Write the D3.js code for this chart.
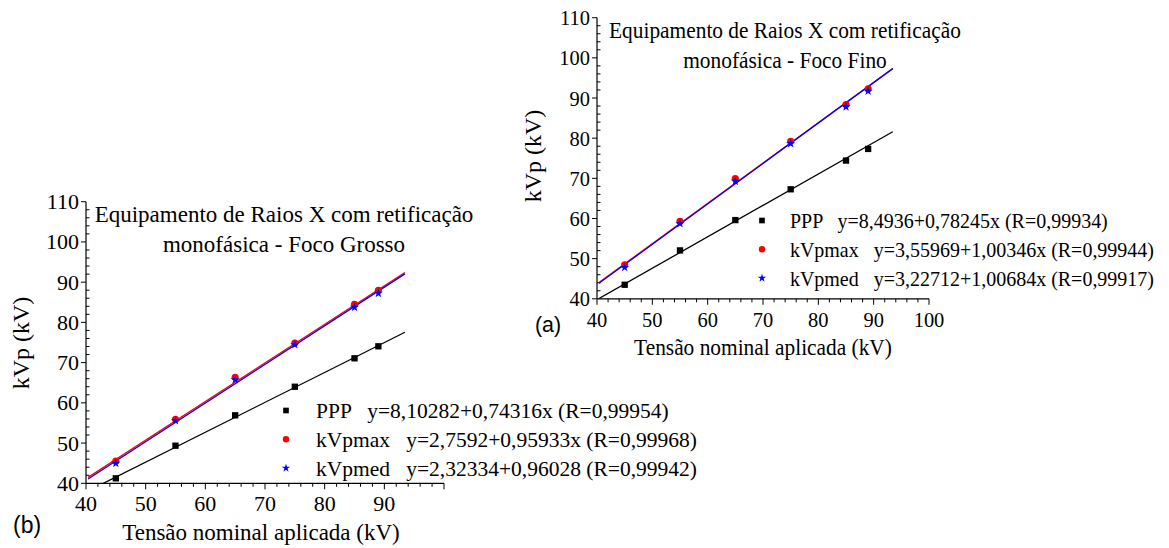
<!DOCTYPE html>
<html><head><meta charset="utf-8">
<script src="https://cdn.jsdelivr.net/npm/d3@7"></script>
<style>html,body{margin:0;padding:0;background:#fff;}svg{display:block;}</style>
</head><body>
<svg id="c" width="1169" height="548"></svg>
<script>
// ---- data ----
const tensoes = [45, 55, 65, 75, 85, 89];
// (b) Foco Grosso
const grossoPPP = [41.24, 49.35, 56.9, 64.0, 71.07, 74.05];
const grossoMax = [45.5, 55.9, 66.35, 74.87, 84.5, 87.97];
const grossoMed = [44.97, 55.56, 65.76, 74.46, 83.75, 87.23];
const grossoFits = [[8.10282, 0.74316], [2.7592, 0.95933], [2.32334, 0.96028]];
const grossoLegend = ["PPP   y=8,10282+0,74316x (R=0,99954)",
                      "kVpmax   y=2,7592+0,95933x (R=0,99968)",
                      "kVpmed   y=2,32334+0,96028 (R=0,99942)"];
const grossoTitle = ["Equipamento de Raios X com retificação", "monofásica - Foco Grosso"];
const grossoXTicks = [40, 50, 60, 70, 80, 90];
// (a) Foco Fino
const finoPPP = [43.5, 52.05, 59.6, 67.27, 74.42, 77.32];
const finoMax = [48.48, 59.28, 69.93, 79.24, 88.39, 92.3];
const finoMed = [47.8, 58.7, 69.26, 78.66, 87.8, 91.7];
const finoFits = [[8.4936, 0.78245], [3.55969, 1.00346], [3.22712, 1.00684]];
const finoLegend = ["PPP   y=8,4936+0,78245x (R=0,99934)",
                    "kVpmax   y=3,55969+1,00346x (R=0,99944)",
                    "kVpmed   y=3,22712+1,00684x (R=0,99917)"];
const finoTitle = ["Equipamento de Raios X com retificação", "monofásica - Foco Fino"];
const finoXTicks = [40, 50, 60, 70, 80, 90, 100];
const yTicks = [40, 50, 60, 70, 80, 90, 100, 110];
const fitRange = [40.35, 93.45];
const xDomain = [40, 100], yDomain = [40, 110];
const xAxisTitle = "Tensão nominal aplicada (kV)";
const yAxisTitle = "kVp (kV)";
const colors = ["#000000", "#ff0000", "#0000ff"];
const shapes = [d3.symbolSquare, d3.symbolCircle, d3.symbolStar];

const svg = d3.select("#c");
const SERIF = "'Liberation Serif','Times New Roman',serif";
const SANS = "'Liberation Sans',Arial,sans-serif";

function txt(g, x, y, s, size, sx, anchor, family) {
  return g.append("text")
    .attr("transform", `translate(${x},${y}) scale(${sx},1)`)
    .attr("text-anchor", anchor || "start")
    .attr("font-family", family || SERIF)
    .attr("font-size", size)
    .attr("fill", "#000")
    .style("white-space", "pre")
    .text(s);
}

function drawChart(cfg) {
  const x = d3.scaleLinear().domain(xDomain).range([cfg.left, cfg.right]);
  const y = d3.scaleLinear().domain(yDomain).range([cfg.bottom, cfg.top]);
  const g = svg.append("g");
  const sx = cfg.sx;
  const id = "clip" + cfg.name;
  svg.append("clipPath").attr("id", id).append("rect")
    .attr("x", cfg.left).attr("y", cfg.top)
    .attr("width", cfg.right - cfg.left).attr("height", cfg.bottom - cfg.top);

  // axes lines
  g.append("line").attr("x1", cfg.left).attr("x2", cfg.left).attr("y1", cfg.top).attr("y2", cfg.bottom)
    .attr("stroke", "#000").attr("stroke-width", 1.2);
  g.append("line").attr("x1", cfg.left).attr("x2", cfg.right).attr("y1", cfg.bottom).attr("y2", cfg.bottom)
    .attr("stroke", "#000").attr("stroke-width", 1.2);
  // x ticks
  d3.range(xDomain[0], xDomain[1] + 0.1, 2).forEach(v => {
    const major = v % 10 === 0;
    g.append("line").attr("x1", x(v)).attr("x2", x(v))
      .attr("y1", cfg.bottom).attr("y2", cfg.bottom + (major ? 6 : 3.5))
      .attr("stroke", "#000").attr("stroke-width", 1);
  });
  // y ticks
  d3.range(yDomain[0], yDomain[1] + 0.1, 2).forEach(v => {
    const major = v % 10 === 0;
    g.append("line").attr("y1", y(v)).attr("y2", y(v))
      .attr("x1", major ? cfg.left - 5 : cfg.left).attr("x2", major ? cfg.left : cfg.left + 3.5)
      .attr("stroke", "#000").attr("stroke-width", 1);
  });
  cfg.xTicks.forEach(v => txt(g, x(v), cfg.bottom + 28, String(v), 22, sx, "middle"));
  yTicks.forEach(v => txt(g, cfg.left - 7, y(v) + 7.5, String(v), 22, sx, "end"));

  // titles
  txt(g, cfg.titleX, cfg.top + 20, cfg.title[0], 23, sx, "middle");
  txt(g, cfg.titleX, cfg.top + 50, cfg.title[1], 23, sx, "middle");
  txt(g, (cfg.left + cfg.xTitleOffset), cfg.bottom + 56.5, xAxisTitle, 23, sx, "middle");
  g.append("text")
    .attr("transform", `translate(${cfg.yTitleX},${cfg.yTitleY}) rotate(-90)`)
    .attr("text-anchor", "middle").attr("font-family", SERIF).attr("font-size", 24)
    .text(yAxisTitle);
  txt(g, cfg.tagX, cfg.tagY, cfg.tag, 23, sx, "start", SANS);

  // fit lines
  const lineG = g.append("g").attr("clip-path", `url(#${id})`);
  cfg.fits.forEach((f, i) => {
    lineG.append("line")
      .attr("x1", x(fitRange[0])).attr("y1", y(f[0] + f[1] * fitRange[0]))
      .attr("x2", x(fitRange[1])).attr("y2", y(f[0] + f[1] * fitRange[1]))
      .attr("stroke", colors[i]).attr("stroke-width", 1.3);
  });
  // points
  const sizes = [40, 40, 26];
  cfg.series.forEach((vals, i) => {
    g.append("g").selectAll("path").data(vals).join("path")
      .attr("transform", (d, j) => `translate(${x(tensoes[j])},${y(d)})`)
      .attr("d", d3.symbol().type(shapes[i]).size(sizes[i]))
      .attr("fill", colors[i]);
  });
  // legend
  const lsizes = [32, 32, 22];
  cfg.legend.forEach((s, i) => {
    const by = cfg.legY + i * 28.8;
    g.append("path").attr("transform", `translate(${cfg.legX},${by - 7.5})`)
      .attr("d", d3.symbol().type(shapes[i]).size(lsizes[i])).attr("fill", colors[i]);
    txt(g, cfg.legX + 30 * sx, by, s, 21.5, sx, "start");
  });
}

drawChart({
  name: "b", left: 86, right: 444, top: 201.7, bottom: 483.3, sx: 1,
  xTicks: grossoXTicks, title: grossoTitle, titleX: 284, xTitleOffset: 175,
  yTitleX: 29, yTitleY: 343, tag: "(b)", tagX: 13, tagY: 533,
  fits: grossoFits, series: [grossoPPP, grossoMax, grossoMed],
  legend: grossoLegend, legX: 286, legY: 418
});
drawChart({
  name: "a", left: 597, right: 929, top: 17.7, bottom: 298.8, sx: 0.93,
  xTicks: finoXTicks, title: finoTitle, titleX: 785, xTitleOffset: 166,
  yTitleX: 541, yTitleY: 156, tag: "(a)", tagX: 535, tagY: 332,
  fits: finoFits, series: [finoPPP, finoMax, finoMed],
  legend: finoLegend, legX: 762, legY: 228
});
</script>
</body></html>
